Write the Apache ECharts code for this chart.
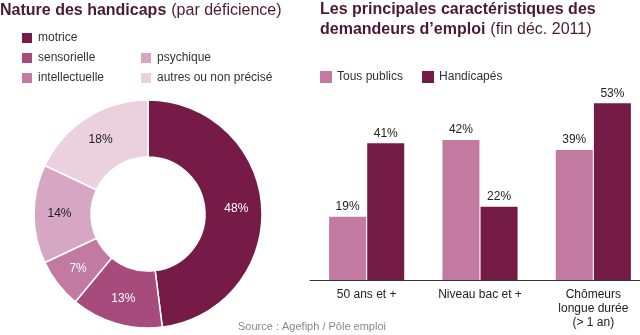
<!DOCTYPE html>
<html><head><meta charset="utf-8">
<script src="https://cdn.jsdelivr.net/npm/echarts@6/dist/echarts.min.js"></script>
<style>html,body{margin:0;padding:0;background:#fff}#c{width:640px;height:335px}</style>
</head><body><div id="c"></div>
<script>
const pieNames = ['motrice','sensorielle','intellectuelle','psychique','autres ou non précisé'];
const pieValues = [48, 13, 7, 14, 18];
const pieColors = ['#761b47','#a64b7b','#c27aa3','#d6a6c2','#ebd0dd'];
const pieLabelColors = ['#fff','#fff','#fff','#222','#222'];
const barCategories = ['50 ans et +','Niveau bac et +','Chômeurs\nlongue durée\n(> 1 an)'];
const tousPublics = [19, 42, 39];
const handicapes = [41, 22, 53];
const barSeriesNames = ['Tous publics','Handicapés'];
const barColors = ['#c27aa0','#731a45'];

const chart = echarts.init(document.getElementById('c'), null, {renderer:'canvas'});
const FONT = 'Liberation Sans, Arial, sans-serif';
const titleColor = '#4a1a35';
const legText = {fontSize:12,color:'#333',fontFamily:FONT};
chart.setOption({
  animation:false,
  color: pieColors,
  textStyle:{fontFamily:FONT},
  title:[
    {left:0, top:2, padding:0, text:'{b|Nature des handicaps} {n|(par déficience)}',
     textStyle:{rich:{b:{fontSize:16,fontWeight:'bold',color:titleColor,fontFamily:FONT},n:{fontSize:16,fontWeight:'normal',color:titleColor,fontFamily:FONT}}}},
    {left:320, top:0, padding:0, text:'{b|Les principales caractéristiques des}\n{b|demandeurs d’emploi} {n|(fin déc. 2011)}',
     textStyle:{lineHeight:20,rich:{b:{fontSize:16,fontWeight:'bold',color:titleColor,fontFamily:FONT,lineHeight:20},n:{fontSize:16,fontWeight:'normal',color:titleColor,fontFamily:FONT,lineHeight:20}}}},
    {left:238, top:321, padding:0, text:'Source : Agefiph / Pôle emploi', textStyle:{fontSize:11,fontWeight:'normal',color:'#888',fontFamily:FONT}}
  ],
  legend:[
    {orient:'vertical', left:20, top:31, padding:0, itemWidth:12, itemHeight:12, itemGap:6, icon:'rect',
     data:pieNames.slice(0,3), textStyle:legText, selectedMode:false},
    {orient:'vertical', left:139, top:51, padding:0, itemWidth:12, itemHeight:12, itemGap:6, icon:'rect',
     data:pieNames.slice(3), textStyle:legText, selectedMode:false},
    {orient:'horizontal', left:320, top:71, padding:0, itemWidth:12, itemHeight:12, itemGap:19, icon:'rect',
     data:barSeriesNames, textStyle:legText, selectedMode:false}
  ],
  grid:{left:310, width:340, top:80, bottom:55, containLabel:false, outerBoundsMode:'none'},
  xAxis:{type:'category', data:barCategories,
    axisLine:{lineStyle:{color:'#333',width:1}}, axisTick:{show:false},
    axisLabel:{color:'#222',fontSize:12,lineHeight:14,margin:8,interval:0}},
  yAxis:{type:'value', min:0, max:60, show:false, splitLine:{show:false}},
  series:[
    {type:'pie', radius:[57,114], center:[148,214], startAngle:90, clockwise:true,
     itemStyle:{borderColor:'#fff',borderWidth:1.5},
     label:{show:true, position:'inside', formatter:'{c}%', fontSize:12},
     labelLine:{show:false},
     data: pieNames.map((n,i)=>({name:n, value:pieValues[i], itemStyle:{color:pieColors[i]}, label:{color:pieLabelColors[i]}}))},
    {type:'bar', name:barSeriesNames[0], data:tousPublics, barWidth:37, barGap:'3%', itemStyle:{color:barColors[0]},
     label:{show:true, position:'top', formatter:'{c}%', color:'#222', fontSize:12, distance:4}},
    {type:'bar', name:barSeriesNames[1], data:handicapes, barWidth:37, itemStyle:{color:barColors[1]},
     label:{show:true, position:'top', formatter:'{c}%', color:'#222', fontSize:12, distance:4}}
  ]
});
</script></body></html>
